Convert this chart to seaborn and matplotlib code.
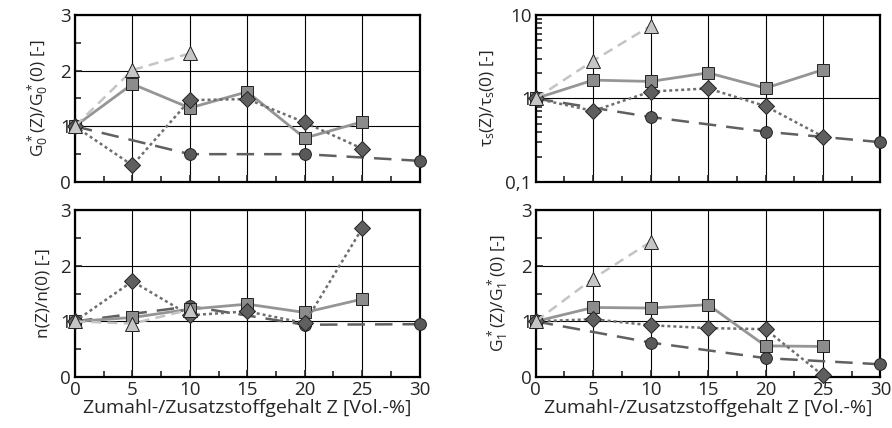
import matplotlib
matplotlib.use("Agg")
import matplotlib.pyplot as plt
import matplotlib.ticker as mticker
import seaborn as sns
import pandas as pd

# Zumahl-/Zusatzstoffgehalt Z [Vol.-%]
z_kreis = [0, 10, 20, 30]
z_quadrat = [0, 5, 10, 15, 20, 25]
z_raute = [0, 5, 10, 15, 20, 25]
z_dreieck = [0, 5, 10]

# G0*(Z)/G0*(0)
g0_kreis = [1.0, 0.50, 0.50, 0.38]
g0_quadrat = [1.0, 1.76, 1.33, 1.62, 0.79, 1.08]
g0_raute = [1.0, 0.30, 1.47, 1.49, 1.07, 0.60]
g0_dreieck = [1.0, 2.01, 2.31]

# tau_s(Z)/tau_s(0)
tau_kreis = [1.0, 0.60, 0.40, 0.30]
tau_quadrat = [1.0, 1.66, 1.60, 2.03, 1.33, 2.21]
tau_raute = [1.0, 0.71, 1.21, 1.32, 0.81, 0.35]
tau_dreieck = [1.0, 2.83, 7.4]

# n(Z)/n(0)
n_kreis = [1.0, 1.27, 0.94, 0.95]
n_quadrat = [1.0, 1.07, 1.22, 1.31, 1.16, 1.40]
n_raute = [1.0, 1.72, 1.11, 1.18, 0.97, 2.67]
n_dreieck = [1.0, 0.96, 1.21]

# G1*(Z)/G1*(0)
g1_kreis = [1.0, 0.62, 0.34, 0.23]
g1_quadrat = [1.0, 1.25, 1.24, 1.30, 0.56, 0.55]
g1_raute = [1.0, 1.04, 0.93, 0.88, 0.86, 0.03]
g1_dreieck = [1.0, 1.77, 2.43]

sns.set_style("white")
plt.rcParams["font.family"] = ["Open Sans", "DejaVu Sans"]
plt.rcParams["mathtext.fontset"] = "custom"
plt.rcParams["mathtext.rm"] = "Open Sans"
plt.rcParams["mathtext.it"] = "Open Sans"

# Stil je Reihe: Farbe Linie, Füllung, Marker, Linienstil, Breite, Größe
stile = [
    ("#606060", "#595959", "o", (0, (7, 4)), 1.8, 8.5),
    ("#959595", "#8c8c8c", "s", "-", 2.0, 8),
    ("#6e6e6e", "#5f5f5f", "D", (0, (1.2, 1.2)), 1.8, 8),
    ("#c4c4c4", "#c6c6c6", "^", (0, (4, 2.5)), 1.8, 9.5),
]

panels = [
    ([g0_kreis, g0_quadrat, g0_raute, g0_dreieck], r"G$^*_0$(Z)/G$^*_0$(0) [-]", False),
    ([tau_kreis, tau_quadrat, tau_raute, tau_dreieck], r"$\tau_s$(Z)/$\tau_s$(0) [-]", True),
    ([n_kreis, n_quadrat, n_raute, n_dreieck], "n(Z)/n(0) [-]", False),
    ([g1_kreis, g1_quadrat, g1_raute, g1_dreieck], r"G$^*_1$(Z)/G$^*_1$(0) [-]", False),
]
xs = [z_kreis, z_quadrat, z_raute, z_dreieck]

fig, axes = plt.subplots(2, 2, figsize=(8.92, 4.28), dpi=100)
fig.subplots_adjust(left=0.084, right=0.987, top=0.965, bottom=0.119,
                    wspace=0.337, hspace=0.168)

for i, (ax, (reihen, ylabel, log)) in enumerate(zip(axes.flat, panels)):
    for k, (x, y) in enumerate(zip(xs, reihen)):
        farbe, fuell, marker, ls, lw, ms = stile[k]
        df = pd.DataFrame({"Z": x, "wert": y})
        sns.lineplot(data=df, x="Z", y="wert", ax=ax, color=farbe, linestyle=ls,
                     linewidth=lw, marker=marker, markersize=ms,
                     markerfacecolor=fuell, markeredgecolor="#222222",
                     markeredgewidth=0.7, clip_on=False, zorder=3 + k)

    ax.set_xlim(0, 30)
    ax.xaxis.set_major_locator(mticker.MultipleLocator(5))
    ax.xaxis.set_minor_locator(mticker.MultipleLocator(2.5))
    if log:
        ax.set_yscale("log")
        ax.set_ylim(0.1, 10)
        ax.yaxis.set_major_locator(mticker.FixedLocator([0.1, 1, 10]))
        ax.yaxis.set_major_formatter(mticker.FixedFormatter(["0,1", "1", "10"]))
        ax.yaxis.set_minor_locator(mticker.LogLocator(base=10, subs=range(2, 10)))
        ax.yaxis.set_minor_formatter(mticker.NullFormatter())
    else:
        ax.set_ylim(0, 3)
        ax.yaxis.set_major_locator(mticker.MultipleLocator(1))
        ax.yaxis.set_minor_locator(mticker.MultipleLocator(0.5))

    ax.grid(True, which="major", color="black", linewidth=0.8, zorder=1)
    ax.set_axisbelow(True)
    ax.tick_params(which="both", direction="in", left=True, bottom=True,
                   right=False, top=False, labelsize=13.5, pad=3)
    ax.tick_params(which="major", length=5, width=1.2)
    ax.tick_params(which="minor", length=4, width=1.2)
    for s in ax.spines.values():
        s.set_linewidth(1.6)
        s.set_color("black")
    ax.set_ylabel(ylabel, fontsize=12.5, labelpad=6)
    if i < 2:
        ax.set_xlabel("")
        ax.tick_params(labelbottom=False)
    else:
        ax.set_xlabel("Zumahl-/Zusatzstoffgehalt Z [Vol.-%]", fontsize=14, labelpad=0)

fig.savefig("out.png", dpi=100)
